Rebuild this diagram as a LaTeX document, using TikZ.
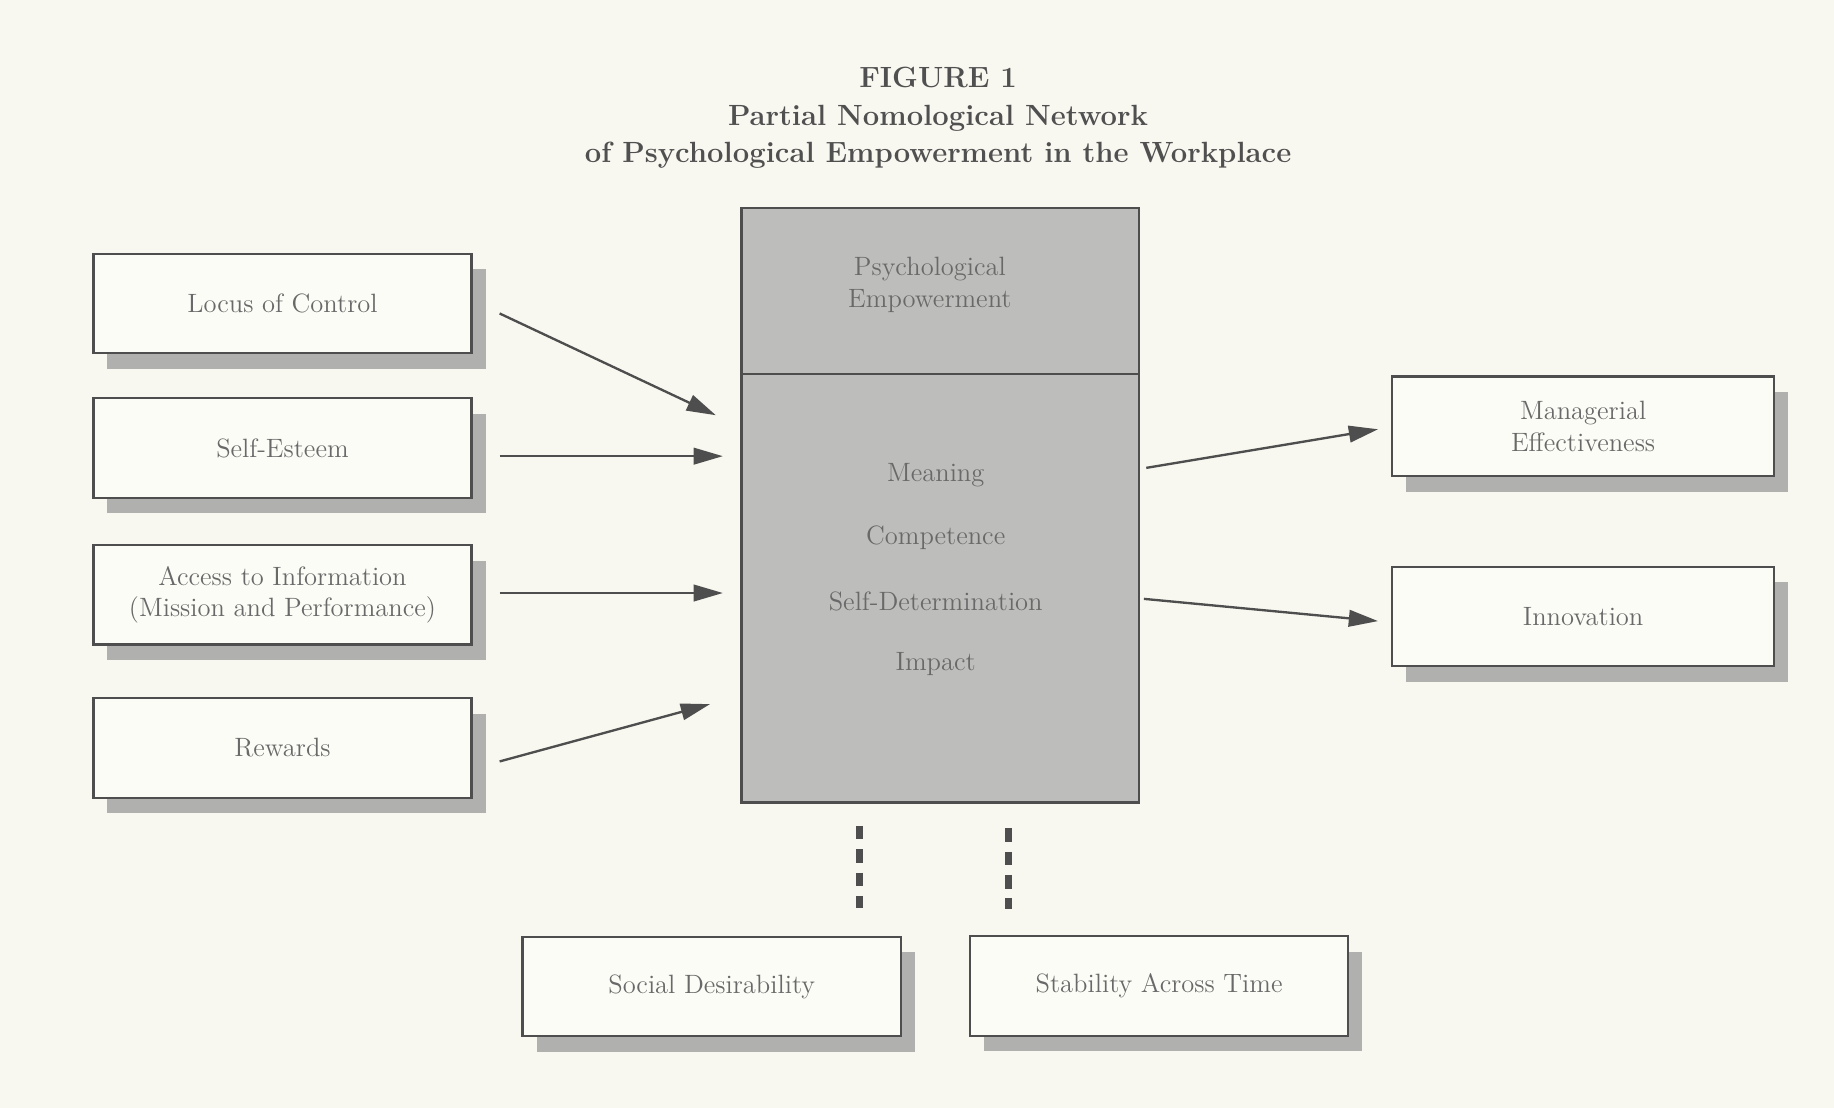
\documentclass[tikz,border=0pt]{standalone}
\usepackage{fontspec}
\usetikzlibrary{arrows.meta,shadows,calc}
\definecolor{paper}{RGB}{249,248,240}
\definecolor{boxfill}{RGB}{252,252,247}
\definecolor{coregray}{RGB}{189,189,187}
\definecolor{shadowgray}{RGB}{176,176,174}
\definecolor{linegray}{RGB}{78,78,78}
\definecolor{textgray}{RGB}{105,105,105}
\definecolor{titlegray}{RGB}{80,80,80}
\tikzset{
  factor/.style={draw=linegray, line width=1.2pt, fill=boxfill, minimum width=194pt,
    minimum height=51pt, inner sep=0pt, align=center, text=textgray,
    font=\fontsize{13.6}{16.2}\selectfont,
    drop shadow={shadow xshift=7.2pt, shadow yshift=-8pt, fill=shadowgray, opacity=1}},
  core/.style={draw=linegray, line width=1.2pt, fill=coregray, minimum width=204pt, inner sep=0pt},
  coretext/.style={align=center, text=textgray, font=\fontsize{13.6}{16.2}\selectfont},
  arrow/.style={draw=linegray, line width=1.2pt, -{Triangle[length=15pt,width=8.5pt]}},
  dots/.style={draw=linegray, line width=3.8pt, dash pattern=on 7pt off 5pt}
}
\begin{document}
\begin{tikzpicture}[x=0.6pt,y=-0.6pt]
        \fill[paper] (0,0) rectangle (1568,947);
        \useasboundingbox (0,0) rectangle (1568,947);
        % title
        \node[align=center, text=titlegray, font=\bfseries\fontsize{15}{19.2}\selectfont] (title) at (802,101)
            {FIGURE 1\\Partial Nomological Network\\of Psychological Empowerment in the Workplace};
        % antecedents
        \node[factor] (loc) at (241.5,259.5) {Locus of Control};
        \node[factor] (self) at (241.5,383) {Self-Esteem};
        \node[factor] (access) at (241.5,508.5) {Access to Information\\(Mission and Performance)};
        \node[factor] (rewards) at (241.5,639.5) {Rewards};
        % empowerment
        \node[core, minimum height=85.2pt] (pe) at (804,249) {};
        \node[core, minimum height=219.6pt] (dim) at (804,503) {};
        \node[coretext] (pelabel) at (795,243.5) {Psychological\\Empowerment};
        \node[coretext] (meaning) at (800,406) {Meaning};
        \node[coretext] (competence) at (800,460) {Competence};
        \node[coretext] (selfdet) at (800,514) {Self-Determination};
        \node[coretext] (impact) at (800,568) {Impact};
        % outcomes
        \node[factor, minimum width=196pt] (manage) at (1353.5,364.5) {Managerial\\Effectiveness};
        \node[factor, minimum width=196pt] (innov) at (1353.5,527) {Innovation};
        % validity
        \node[factor] (social) at (608.5,843.5) {Social Desirability};
        \node[factor] (stable) at (991,843) {Stability Across Time};
        \draw[arrow] ($(loc.east)+(23,8.5)$) -- ($(dim.west)+(-21,-148)$);
        \draw[arrow] ($(self.east)+(23,7)$) -- ($(dim.west)+(-15,-113)$);
        \draw[arrow] ($(access.east)+(23,-1.5)$) -- ($(dim.west)+(-15,4)$);
        \draw[arrow] ($(rewards.east)+(23,11.5)$) -- ($(dim.west)+(-26,99)$);
        \draw[arrow] ($(dim.east)+(5,-103)$) -- ($(manage.west)+(-11,2.5)$);
        \draw[arrow] ($(dim.east)+(3,9)$) -- ($(innov.west)+(-11,4)$);
        \draw[dots] ($(dim.south)+(-69,19)$) -- ($(social.north)+(126.5,-24)$);
        \draw[dots] ($(dim.south)+(58,21)$) -- ($(stable.north)+(-129,-22)$);
    \end{tikzpicture}
\end{document}
